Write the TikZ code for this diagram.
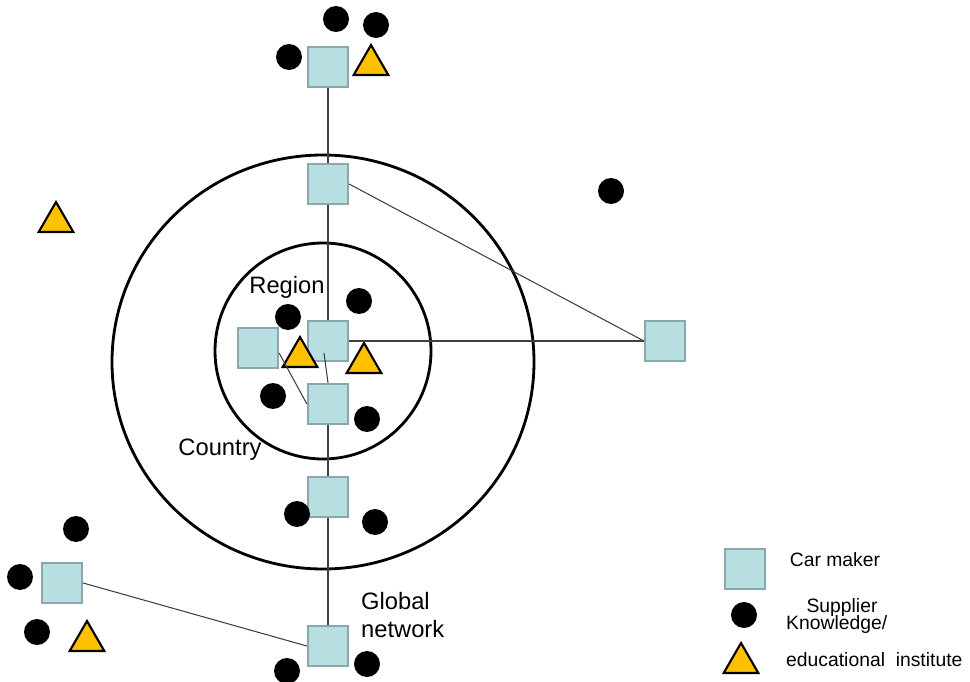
\documentclass[tikz,border=0pt]{standalone}
\usepackage{fontspec}
\setmainfont{Liberation Sans}
\usepackage[HTML]{xcolor}
\usetikzlibrary{positioning, shapes.geometric}
\definecolor{makerfill}{HTML}{B7DFE2}
\definecolor{makerline}{HTML}{8AA8AB}
\definecolor{instfill}{HTML}{FFC000}

\begin{document}
\begin{tikzpicture}[x=0.02cm,y=-0.02cm,
  maker/.style={draw=makerline,fill=makerfill,line width=1.3pt,minimum size=0.8cm,inner sep=0pt},
  supplier/.style={circle,fill=black,minimum size=0.52cm,inner sep=0pt},
  institute/.style={regular polygon,regular polygon sides=3,draw=black,fill=instfill,line width=1.2pt,minimum size=0.8cm,inner sep=0pt},
  link/.style={black!75,line width=0.6pt},
  ring/.style={line width=1.6pt},
  lbl/.style={font=\fontsize{13.5}{16}\selectfont},
  legtext/.style={font=\fontsize{11}{13}\selectfont}]
\useasboundingbox (0,0) rectangle (970,682);
% rings
\draw[ring] (323,362) ellipse [x radius=211, y radius=207];
\draw[ring] (323,351) circle (108);
% car makers
\node[maker] (top) at (328,67) {};
\node[maker] (nat) at (328,184) {};
\node[maker] (reg) at (328,341) {};
\node[maker] (lft) at (258,348) {};
\node[maker] (low) at (328,404) {};
\node[maker] (mid) at (328,497) {};
\node[maker] (bot) at (328,646) {};
\node[maker] (far) at (62,583) {};
\node[maker] (rt) at (665,341) {};
% suppliers
\foreach \p in {(336,19),(376,25),(289,57),(611,191),(288,317),(359,301),(273,396),(367,419),
  (297,514),(375,522),(76,529),(20,577),(37,632),(287,671),(367,664)}
  \node[supplier] at \p {};
% institutes
\foreach \p in {(371,65),(56,222),(300,357),(364,363),(87,641)}
  \node[institute] at \p {};
% links
\draw[link] (top.south) -- (nat.north);
\draw[link] (nat.south) -- (reg.north);
\draw[link] ([xshift=-0.08cm,yshift=-0.24cm]reg.center) -- (low.north);
\draw[link] (low.south) -- (mid.north);
\draw[link] (mid.south) -- (bot.north);
\draw[link] (nat.east) -- (rt.west);
\draw[link] (reg.east) -- (rt.west);
\draw[link] ([yshift=-0.1cm]lft.east) -- (low.west);
\draw[link] (far.east) -- (bot.west);
% labels
\node[lbl] (region) at (287,287) {Region};
\node[lbl] (country) at (220,450) {Country};
\node[lbl,align=left,anchor=west] (global) at (355,615) {Global\\network};
% legend
\node[maker] (legmaker) at (745,569) {};
\node[supplier] (legsup) at (744,615) {};
\node[institute] (leginst) at (741,663) {};
\node[legtext] (legmakertext) at (835,560) {Car maker};
\node[legtext] (legsuptext) at (842,607) {Supplier};
\node[legtext,align=left,anchor=west] (leginsttext) at (780,641) {Knowledge/\\[8pt]educational\ \ institute};
\end{tikzpicture}
\end{document}
